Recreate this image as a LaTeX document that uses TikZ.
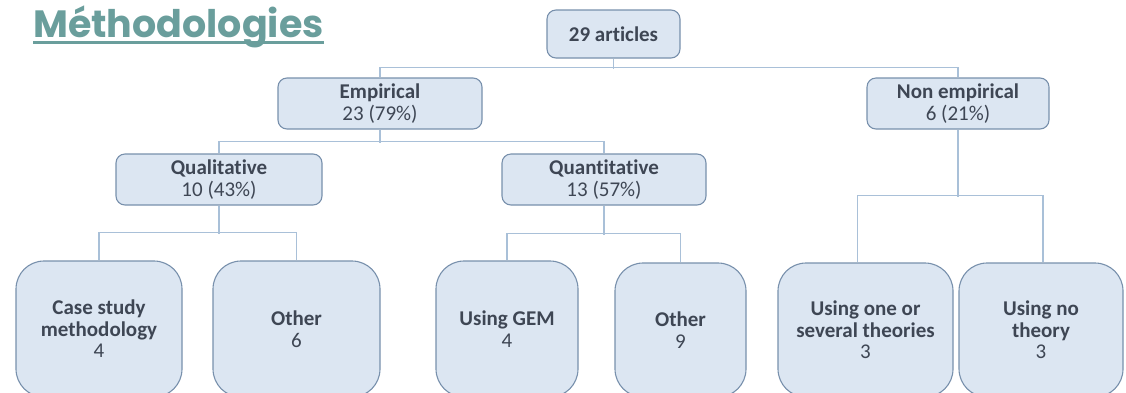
\documentclass[tikz,border=0pt]{standalone}
\usepackage{fontspec}
\setmainfont{Carlito}[Ligatures=NoCommon]
\newfontfamily\titlefont{Poppins}
\definecolor{boxfill}{HTML}{DCE6F2}
\definecolor{boxline}{HTML}{7890AC}
\definecolor{connline}{HTML}{A9C0D8}
\definecolor{txt}{HTML}{3E4654}
\definecolor{teal}{HTML}{6A9E9C}
\begin{document}
\begin{tikzpicture}[x=1pt,y=-1pt,
  base/.style={draw=boxline,fill=boxfill,line width=1.1pt,text=txt,align=center,inner sep=0pt,
    font=\fontsize{21}{21.5}\selectfont},
  topbox/.style={base,rounded corners=9pt,minimum height=51pt},
  leafbox/.style={base,rounded corners=28pt},
  conn/.style={draw=connline,line width=1.2pt}]
\useasboundingbox (0,0) rectangle (1126,392);
\clip (0,0) rectangle (1126,392);
% title
\node[anchor=base west,inner sep=0pt,text=teal,font=\titlefont\bfseries\fontsize{38}{40}\selectfont] (title) at (33,37) {Méthodologies};
\draw[teal,line width=3pt] ([yshift=-5.5pt]title.base west) -- ([yshift=-5.5pt]title.base east);
% nodes
\node[topbox,minimum width=133pt,minimum height=48pt] (art) at (613.5,34) {\textbf{29 articles}};
\node[topbox,minimum width=204pt] (emp) at (380,103.5) {\textbf{Empirical}\\23 (79\%)};
\node[topbox,minimum width=182pt] (non) at (958,103.5) {\textbf{Non empirical}\\6 (21\%)};
\node[topbox,minimum width=206pt] (qual) at (219,179.5) {\textbf{Qualitative}\\10 (43\%)};
\node[topbox,minimum width=204pt] (quant) at (604,179.5) {\textbf{Quantitative}\\13 (57\%)};
\node[leafbox,minimum width=166pt,minimum height=136pt] (case) at (99,329) {\textbf{Case study}\\\textbf{methodology}\\4};
\node[leafbox,minimum width=167pt,minimum height=136pt] (oth6) at (296.5,329) {\textbf{Other}\\6};
\node[leafbox,minimum width=142pt,minimum height=136pt] (gem) at (507,329) {\textbf{Using GEM}\\4};
\node[leafbox,minimum width=131pt,minimum height=134pt] (oth9) at (680.5,330) {\textbf{Other}\\9};
\node[leafbox,minimum width=175pt,minimum height=134pt] (one) at (865.5,330) {\textbf{Using one or}\\\textbf{several theories}\\3};
\node[leafbox,minimum width=164pt,minimum height=134pt] (none) at (1041,330) {\textbf{Using no}\\\textbf{theory}\\3};
% connectors
\draw[conn] (art.south) -- ++(0,10);
\draw[conn] (emp.north) -- ++(0,-10) -| (non.north);
\draw[conn] (emp.south) -- ++(0,13);
\draw[conn] (qual.north) -- ++(0,-12) -| (quant.north);
\draw[conn] (qual.south) -- ++(0,28);
\draw[conn] (case.north) -- ++(0,-28) -| (oth6.north);
\draw[conn] (quant.south) -- ++(0,29);
\draw[conn] (gem.north) -- ++(0,-27) -| (oth9.north);
\draw[conn] (non.south) -- ++(0,67);
\draw[conn] ([xshift=-8pt]one.north) -- ++(0,-67) -| ([xshift=2pt]none.north);
\end{tikzpicture}
\end{document}
